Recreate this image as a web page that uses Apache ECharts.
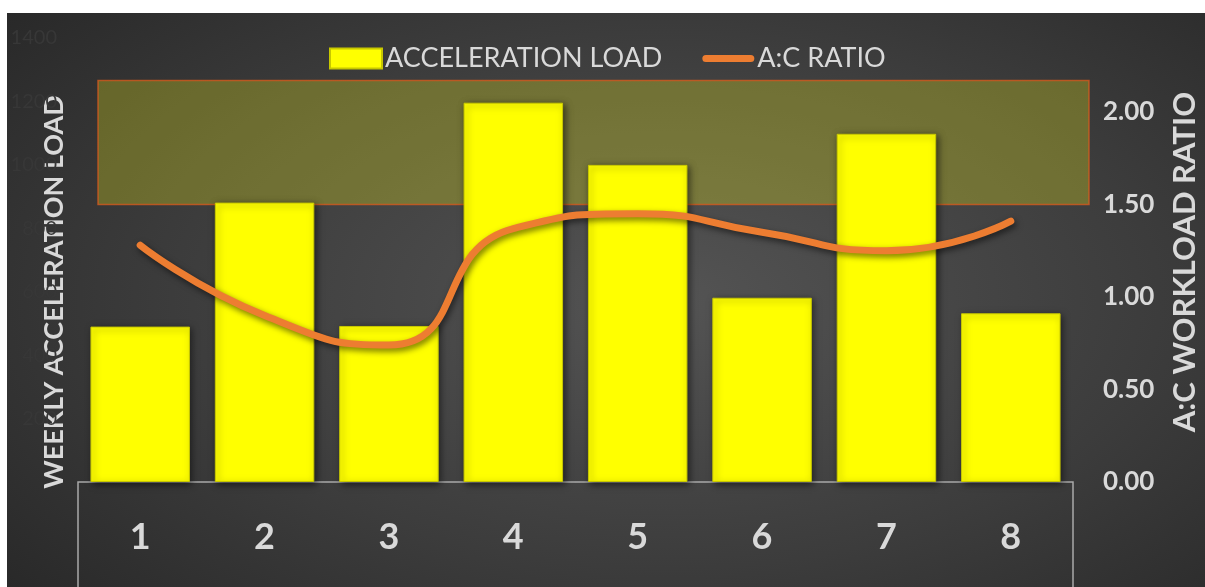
<!DOCTYPE html>
<html>
<head>
<meta charset="utf-8">
<script src="https://cdn.jsdelivr.net/npm/echarts@6/dist/echarts.min.js"></script>
<style>
  html, body { margin: 0; padding: 0; background: #ffffff; }
  #chart {
    position: absolute; left: 7px; top: 13px; width: 1198px; height: 574px;
    background: radial-gradient(ellipse 75% 85% at 55% 50%, #545454 0%, #3c3c3c 55%, #262626 100%);
  }
</style>
</head>
<body>
<div id="chart"></div>
<script>
// ---- data ----
const categories = ['1', '2', '3', '4', '5', '6', '7', '8'];
const accelerationLoad = [490, 881, 492, 1196, 1000, 581, 1098, 532];
const acRatio = [1.28, 0.90, 0.74, 1.37, 1.45, 1.35, 1.25, 1.41];
const loadAxis = { min: 0, max: 1400, interval: 200 };
const ratioAxis = { min: 0, max: 2.4, interval: 0.5 };
const bandRange = [1.5, 2.17];
const seriesNames = ['ACCELERATION LOAD', 'A:C RATIO'];
const axisTitles = ['WEEKLY ACCELERATION LOAD', 'A:C WORKLOAD RATIO'];

const chart = echarts.init(document.getElementById('chart'), null, { renderer: 'canvas' });
const txt = '#d9d9d9';
const font = 'Lato, "Open Sans", sans-serif';

chart.setOption({
  backgroundColor: 'transparent',
  textStyle: { fontFamily: font },
  legend: {
    left: 317, top: 27,
    itemWidth: 52, itemHeight: 20, itemGap: 40,
    textStyle: { color: txt, fontSize: 27, fontFamily: font, padding: [0, 0, 0, -2] },
    data: [
      { name: seriesNames[0], icon: 'rect' },
      { name: seriesNames[1], icon: 'path://M4,0 L54,0 A4,4 0 0 1 54,8 L4,8 A4,4 0 0 1 4,0 Z', itemStyle: { color: '#ed7d31' } }
    ]
  },
  grid: [
    { left: 71, right: 132, top: 25, bottom: 105 },
    { left: 91, right: 116, top: 25, bottom: 105 }
  ],
  xAxis: [
    {
      type: 'category', data: categories, gridIndex: 0,
      axisLine: { show: false }, axisTick: { show: false },
      axisLabel: { color: txt, fontSize: 36, fontWeight: 'bold', lineHeight: 36, margin: 37, fontFamily: font }
    },
    { type: 'value', gridIndex: 1, min: 0, max: 1, show: false }
  ],
  yAxis: [
    {
      type: 'value', gridIndex: 0, min: loadAxis.min, max: loadAxis.max, interval: loadAxis.interval,
      splitLine: { show: false }, axisLine: { show: false }, axisTick: { show: false },
      axisLabel: { color: '#373737', fontSize: 20, margin: 21, showMinLabel: false, fontFamily: font,
        formatter: v => String(v) }
    },
    {
      type: 'value', gridIndex: 0, position: 'right',
      min: ratioAxis.min, max: ratioAxis.max, interval: ratioAxis.interval,
      splitLine: { show: false }, axisLine: { show: false }, axisTick: { show: false },
      axisLabel: {
        color: txt, fontSize: 26, fontWeight: 'bold', margin: 30, showMaxLabel: false, fontFamily: font,
        formatter: v => v.toFixed(2)
      }
    },
    { type: 'value', gridIndex: 1, min: ratioAxis.min, max: ratioAxis.max, show: false }
  ],
  series: [
    {
      name: seriesNames[0], type: 'bar', xAxisIndex: 0, yAxisIndex: 0,
      data: accelerationLoad, barWidth: '80%', z: 2,
      itemStyle: {
        color: '#ffff00', borderColor: '#c8c800', borderWidth: 1,
        shadowColor: 'rgba(0,0,0,0.55)', shadowBlur: 7, shadowOffsetX: 2, shadowOffsetY: 2
      }
    },
    {
      name: seriesNames[1], type: 'line', xAxisIndex: 0, yAxisIndex: 1,
      data: acRatio, smooth: 0.55, symbol: 'none', z: 4,
      lineStyle: {
        color: '#ed7d31', width: 7, cap: 'round', join: 'round',
        shadowColor: 'rgba(0,0,0,0.55)', shadowBlur: 6, shadowOffsetX: 2, shadowOffsetY: 3
      },
      itemStyle: { color: '#ed7d31' }
    },
    {
      name: 'band', type: 'line', xAxisIndex: 1, yAxisIndex: 2, data: [], z: 6, silent: true,
      markArea: {
        silent: true,
        itemStyle: { color: 'rgba(255,255,25,0.26)', borderColor: 'rgba(220,90,30,0.75)', borderWidth: 1.5 },
        data: [[{ xAxis: 0, yAxis: bandRange[0] }, { xAxis: 1, yAxis: bandRange[1] }]]
      }
    }
  ],
  graphic: [
    {
      type: 'rect', silent: true, z: 1,
      shape: { x: 71, y: 469, width: 995, height: 130 },
      style: { fill: 'none', stroke: '#a9a9a9', lineWidth: 1.5 }
    },
    {
      type: 'text', x: 47, y: 279, rotation: Math.PI / 2, silent: true,
      style: { text: axisTitles[0], fill: txt, font: 'bold 27px ' + font, textAlign: 'center', textVerticalAlign: 'middle' }
    },
    {
      type: 'text', x: 1178, y: 249, rotation: Math.PI / 2, silent: true,
      style: { text: axisTitles[1], fill: txt, font: 'bold 31px ' + font, textAlign: 'center', textVerticalAlign: 'middle' }
    }
  ]
});
</script>
</body>
</html>
